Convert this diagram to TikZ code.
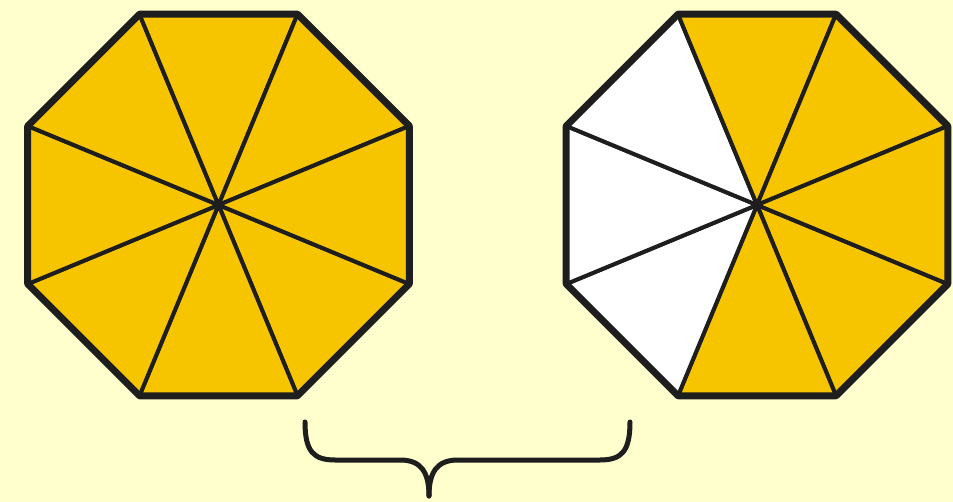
\documentclass[tikz,border=0pt]{standalone}
\usepackage{tikz}
\usetikzlibrary{calc}
\usepackage{xcolor}
\definecolor{PaperYellow}{RGB}{255,255,206}
\definecolor{SliceGold}{RGB}{247,196,0}
\definecolor{InkBlack}{RGB}{30,30,30}

\begin{document}
\begin{tikzpicture}[
x=1pt,y=-1pt,
slice/.style={fill=SliceGold,draw=InkBlack,line width=4pt,line join=round},
blank/.style={fill=white,draw=InkBlack,line width=4pt,line join=round},
rim/.style={draw=InkBlack,line width=7pt,line join=round},
brace/.style={draw=InkBlack,line width=5pt,line cap=round}
]
\fill[PaperYellow] (0,0) rectangle (953,502);
\useasboundingbox (0,0) rectangle (953,502);
% centres of the two octagons
\coordinate (L) at (218.5,205);
\coordinate (R) at (757,205);
% left octagon: all eight slices shaded
\foreach \k in {0,...,7}
  \draw[slice] (L) -- ++({22.5+45*\k}:206.5) -- ($(L)+({67.5+45*\k}:206.5)$) -- cycle;
\draw[rim] (L) ++(22.5:206.5) \foreach \k in {1,...,7} { -- ($(L)+({22.5+45*\k}:206.5)$) } -- cycle;
% right octagon: three slices left blank
\foreach \k in {0,...,7}{
  \ifnum\k>1 \ifnum\k<5 \def\look{blank}\else\def\look{slice}\fi\else\def\look{slice}\fi
  \draw[\look] (R) -- ++({22.5+45*\k}:206.5) -- ($(R)+({67.5+45*\k}:206.5)$) -- cycle;
}
\draw[rim] (R) ++(22.5:206.5) \foreach \k in {1,...,7} { -- ($(R)+({22.5+45*\k}:206.5)$) } -- cycle;
% brace
\coordinate (bl) at (305,422);
\coordinate (br) at (630,422);
\coordinate (tip) at (429,496);
\draw[brace] (bl) .. controls (305,452) and (314,460) .. (335,460) -- (400,460)
  .. controls (421,460) and (429,472) .. (tip);
\draw[brace] (tip) .. controls (429,472) and (437,460) .. (458,460) -- (600,460)
  .. controls (621,460) and (630,452) .. (br);
\end{tikzpicture}
\end{document}
